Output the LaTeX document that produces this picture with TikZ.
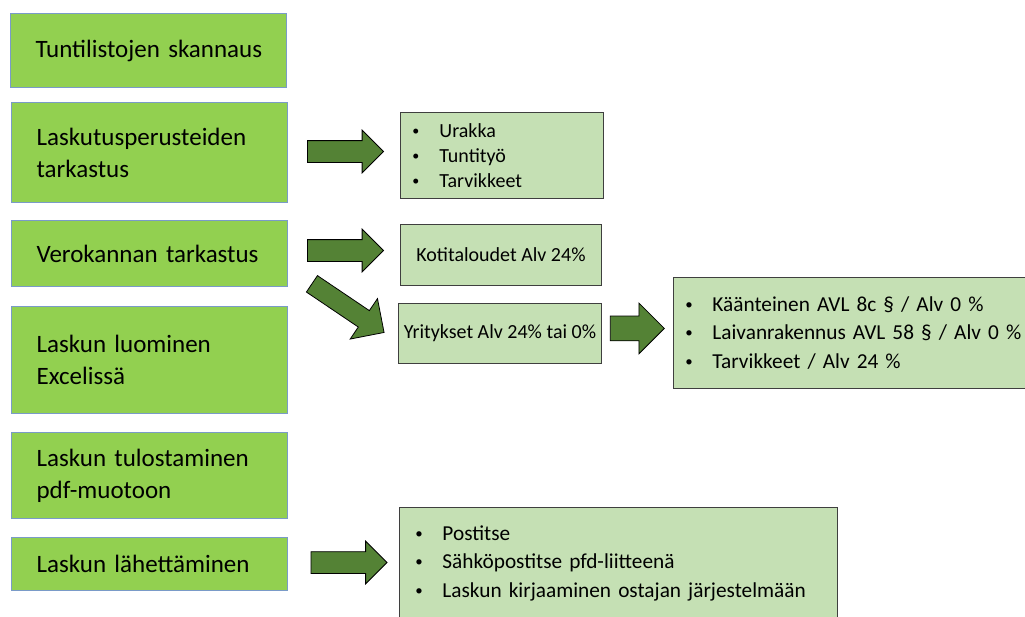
\documentclass[tikz,border=0pt]{standalone}
\usepackage{fontspec}
\setmainfont{Carlito}
\usepackage{graphicx}
\usepackage{tikz}
\usetikzlibrary{shapes.arrows,calc}

\definecolor{stepgreen}{HTML}{92D050}
\definecolor{stepline}{HTML}{7A9BC8}
\definecolor{notegreen}{HTML}{C5E0B4}
\definecolor{noteline}{HTML}{3F3F3F}
\definecolor{arrowgreen}{HTML}{548235}

\newcommand{\bul}[1]{\makebox[27pt][l]{\raisebox{.1em}{\scalebox{.7}{\textbullet}}}\mbox{#1}}

\tikzset{
  stepbox/.style={draw=stepline, fill=stepgreen, line width=1.1pt, anchor=north west,
    minimum width=276pt, text width=226pt, inner xsep=25pt, align=left,
    font=\fontsize{25}{32}\selectfont},
  notebox/.style={draw=noteline, fill=notegreen, line width=0.9pt, anchor=north west,
    inner xsep=12pt, align=left, font=\fontsize{20}{25}\selectfont},
  blkarrow/.style={single arrow, draw=black, fill=arrowgreen, line width=0.8pt, anchor=tail,
    inner xsep=0pt, inner ysep=10.5pt, single arrow head extend=10.5pt, minimum width=0pt}
}

\begin{document}
\begin{tikzpicture}[x=1pt,y=-1pt]
\useasboundingbox (0,0) rectangle (1025,617);
\clip (0,0) rectangle (1025,617);

% Left column: work steps
\node[stepbox, minimum height=74pt]  (skannaus) at (10,13)  {\mbox{Tuntilistojen skannaus}};
\node[stepbox, minimum height=100pt] (perus)    at (11,102) {Laskutusperusteiden\\tarkastus};
\node[stepbox, minimum height=66pt]  (vero)     at (11,220) {\mbox{Verokannan tarkastus}};
\node[stepbox, minimum height=107pt] (luonti)   at (11,306) {Laskun luominen\\Excelissä};
\node[stepbox, minimum height=86pt]  (tuloste)  at (11,432) {\mbox{Laskun tulostaminen}\\pdf-muotoon};
\node[stepbox, minimum height=53pt]  (laheta)   at (11,537) {\mbox{Laskun lähettäminen}};

% Right side: details
\node[notebox, minimum width=203pt, minimum height=86pt, text width=179pt] (perusl) at (400,112)
  {\bul{Urakka}\\\bul{Tuntityö}\\\bul{Tarvikkeet}};
\node[notebox, minimum width=201pt, minimum height=61pt, align=center] (koti) at (400,224)
  {Kotitaloudet Alv 24\%};
\node[notebox, minimum width=203pt, minimum height=60pt, inner xsep=4pt, align=center] (yrit) at (398,303)
  {Yritykset Alv 24\% tai 0\%};
\node[notebox, minimum width=370pt, minimum height=111pt, text width=346pt,
  font=\fontsize{21.3}{28.5}\selectfont] (avl) at (673,277)
  {\bul{Käänteinen AVL 8c § / Alv 0 \%}\\\bul{Laivanrakennus AVL 58 § / Alv 0 \%}\\\bul{Tarvikkeet / Alv 24 \%}};
\node[notebox, minimum width=438pt, minimum height=112pt, text width=406pt, inner xsep=16pt,
  font=\fontsize{21.3}{28.5}\selectfont] (lahetal) at (399,507)
  {\bul{Postitse}\\\bul{Sähköpostitse pfd-liitteenä}\\\bul{Laskun kirjaaminen ostajan järjestelmään}};

% Block arrows
\node[blkarrow, minimum height=76pt] (a1) at ([xshift=19pt,yshift=1pt]perus.east) {};
\node[blkarrow, minimum height=76pt] (a2) at ([xshift=19pt,yshift=3pt]vero.east) {};
\node[blkarrow, minimum height=87pt, inner ysep=9.5pt, single arrow head extend=14.5pt, rotate=-34]
  (a3) at ([xshift=23.5pt,yshift=3.5pt]vero.south east) {};
\node[blkarrow, minimum height=54pt, inner ysep=12pt, single arrow head extend=13pt]
  (a4) at ([xshift=8pt,yshift=5pt]yrit.east) {};
\node[blkarrow, minimum height=76pt] (a5) at ([xshift=22.5pt,yshift=1.5pt]laheta.east) {};
\end{tikzpicture}
\end{document}
